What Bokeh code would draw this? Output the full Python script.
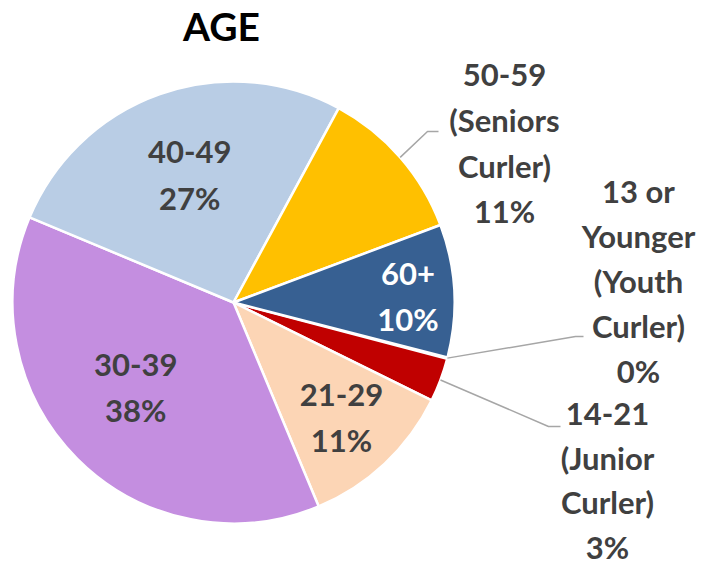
import math
from bokeh.plotting import figure
from bokeh.models import ColumnDataSource, Range1d
from bokeh.embed import file_html
from bokeh.resources import INLINE
from bokeh.core.properties import value, field

# ---------------- data ----------------
title = "AGE"
categories = ["13 or Younger (Youth Curler)", "14-21 (Junior Curler)", "21-29",
              "30-39", "40-49", "50-59 (Seniors Curler)", "60+"]
label_lines = [["13 or", "Younger", "(Youth", "Curler)"],
               ["14-21", "(Junior", "Curler)"],
               ["21-29"],
               ["30-39"],
               ["40-49"],
               ["50-59", "(Seniors", "Curler)"],
               ["60+"]]
shares = [0.1, 3.2, 11.4, 37.6, 26.6, 11.4, 9.7]
colors = ["#8EB4E3", "#C00000", "#FCD5B5", "#C48EE0", "#B9CDE5", "#FFC000", "#376092"]
label_colors = ["#404040", "#404040", "#404040", "#404040", "#404040", "#404040", "#FFFFFF"]

# ---------------- layout ----------------
W, H = 706, 566
def sy(Y):
    return H - Y

CX, CY, R = 233, 302, 221          # picture coordinates of pie
FIRST_ANGLE = 104.4                # degrees clockwise from 12 o'clock
LS = 45.4                          # label line spacing
FONT = "Lato"
FS = "31px"

inside = {2: (0.714, 0.0), 3: (0.586, 4.0), 4: (0.61, 0.5), 6: (0.79, 1.0)}
outside = {
    5: dict(cx=504, top=74.5, ls=45.4, elbow=(427, 131), end=(438, 131)),
    0: dict(cx=638, top=190.0, ls=45.2, elbow=(575, 336), end=(583, 336)),
    1: dict(cx=607, top=413.5, ls=44.2, elbow=(548, 426), end=(560, 426)),
}

def pct(v):
    return f"{int(math.floor(v + 0.5))}%"

total = sum(shares)
a0s, a1s = [], []
a = FIRST_ANGLE
for v in shares:
    span = 360.0 * v / total
    a0s.append(a)
    a1s.append(a + span)
    a += span

def to_bokeh(deg_cw):
    return math.radians(90.0 - deg_cw)

def pt(deg_cw, r):
    t = math.radians(deg_cw)
    return CX + r * math.sin(t), CY - r * math.cos(t)

p = figure(width=W, height=H, output_backend="svg", toolbar_location=None,
           x_range=Range1d(0, W), y_range=Range1d(0, H),
           x_axis_location=None, y_axis_location=None, min_border=0)
p.grid.visible = False
p.outline_line_color = None
p.background_fill_color = "white"
p.border_fill_color = "white"

wsrc = ColumnDataSource(dict(
    x=[CX] * len(shares), y=[sy(CY)] * len(shares),
    start=[to_bokeh(x) for x in a0s], end=[to_bokeh(x) for x in a1s],
    color=colors, cat=categories))
p.wedge(x="x", y="y", radius=R, start_angle="start", end_angle="end",
        direction="clock", fill_color="color", line_color="white",
        line_width=2.5, source=wsrc)

# labels
tx, ty, tt, tc = [], [], [], []
lxs, lys = [], []
for i, v in enumerate(shares):
    lines = label_lines[i] + [pct(v)]
    mid = (a0s[i] + a1s[i]) / 2.0
    if i in inside:
        frac, nudge = inside[i]
        bx, by = pt(mid + nudge, frac * R)
        n = len(lines)
        for k, s in enumerate(lines):
            tx.append(bx)
            ty.append(sy(by + (k - (n - 1) / 2.0) * LS))
            tt.append(s)
            tc.append(label_colors[i])
    elif i in outside:
        o = outside[i]
        for k, s in enumerate(lines):
            tx.append(o["cx"])
            ty.append(sy(o["top"] + k * o["ls"]))
            tt.append(s)
            tc.append(label_colors[i])
        ex, ey = pt(mid, R)
        lxs.append([ex, o["elbow"][0], o["end"][0]])
        lys.append([sy(ey), sy(o["elbow"][1]), sy(o["end"][1])])

p.multi_line(xs=lxs, ys=lys, line_color="#A6A6A6", line_width=1.5)

tsrc = ColumnDataSource(dict(x=tx, y=ty, text=tt, color=tc))
p.text(x="x", y="y", text="text", source=tsrc, text_font=value(FONT),
       text_font_style="bold", text_font_size=FS, text_align="center",
       text_baseline="middle", text_color=field("color"))

p.text(x=[221], y=[sy(25.5)], text=[title], text_font=value(FONT),
       text_font_style="bold", text_font_size="39px", text_align="center",
       text_baseline="middle", text_color="black")

open("out.html", "w").write(file_html(p, INLINE))
